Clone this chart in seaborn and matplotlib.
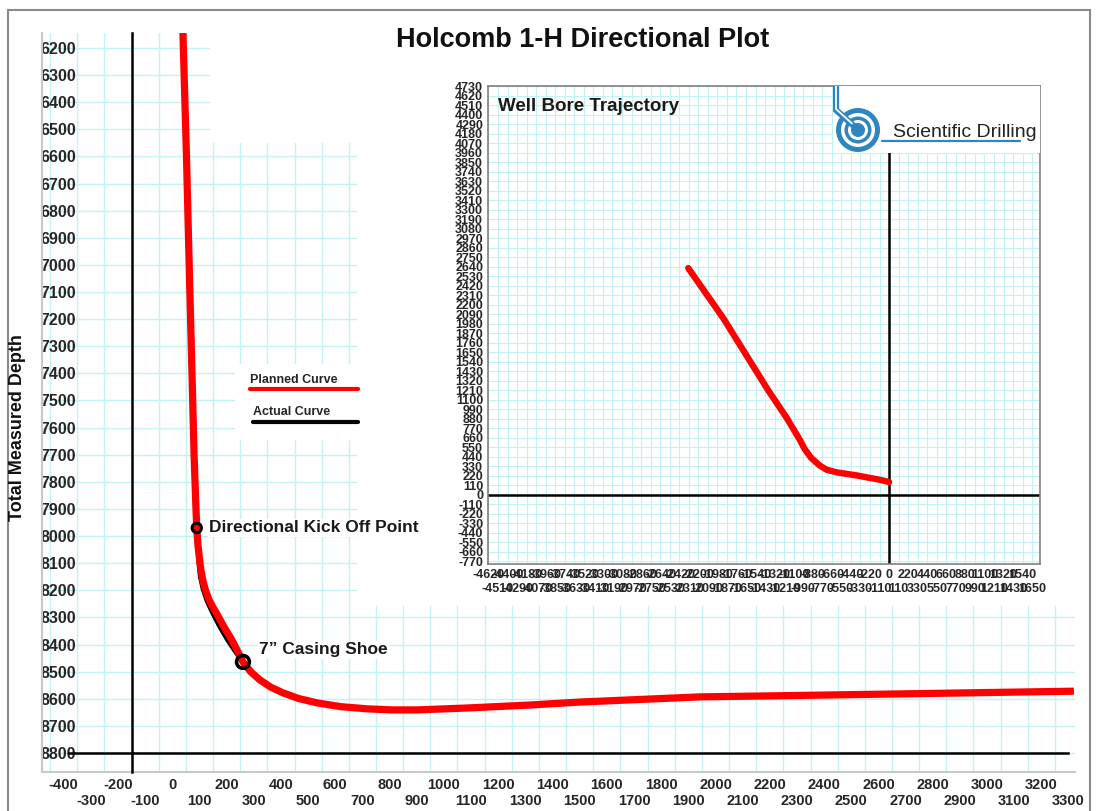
import numpy as np
import matplotlib
matplotlib.use("Agg")
import matplotlib.pyplot as plt
import seaborn as sns
from matplotlib.patches import Rectangle, Circle
from matplotlib.lines import Line2D

# ---------------- data ----------------
# Main plot: vertical section (ft) vs total measured depth (ft)
planned_vs = [39, 52, 62, 71, 80, 87, 90, 94, 100, 105, 112, 122, 135, 149, 164, 190,
              204, 219, 238, 260, 288, 322, 362, 407, 465, 532, 620, 716, 808, 901,
              1085, 1317, 1501, 1943, 2153, 2680, 3320]
planned_md = [6145, 6600, 7000, 7350, 7700, 7900, 7970, 8030, 8085, 8125, 8162, 8200,
              8235, 8262, 8287, 8335, 8358, 8383, 8420, 8464, 8500, 8530, 8557, 8578,
              8599, 8615, 8629, 8637, 8641, 8641, 8634, 8623, 8612, 8593, 8590, 8582, 8572]
actual_vs = [39, 52, 62, 71, 80, 87, 90, 92, 95, 100, 110, 125, 145, 172, 200, 228, 255]
actual_md = [6145, 6600, 7000, 7350, 7700, 7900, 7970, 8040, 8100, 8150, 8195, 8240,
             8283, 8335, 8383, 8425, 8464]

kop_vs, kop_md = [90], [7970]
shoe_vs, shoe_md = [260], [8464]

# Inset: well bore trajectory (E/W vs N/S)
traj_ew = [-2316, -1912, -1400, -1181, -1029, -974, -900, -800, -721, -600, -492,
           -370, -262, -130, 0]
traj_ns = [2626, 2046, 1220, 892, 636, 532, 430, 340, 292, 260, 244, 225, 204, 180, 150]

# tick labels
main_x_labels = list(range(-400, 3301, 100))
main_y_labels = list(range(6200, 8801, 100))
main_x_grid = list(range(-450, 3301, 100))
main_x_axis_ticks = list(range(-350, 3251, 100))
inset_x_labels = list(range(-4620, 1651, 110))
inset_y_labels = list(range(-770, 4731, 110))

# ---------------- style ----------------
sns.set_style("white")
plt.rcParams["font.family"] = ["Liberation Sans", "DejaVu Sans"]
plt.rcParams["font.weight"] = "bold"

W, H = 1098, 811
fig = plt.figure(figsize=(W / 100, H / 100), dpi=100)


def px_rect(x0, y0, x1, y1):
    return [x0 / W, 1 - y1 / H, (x1 - x0) / W, (y1 - y0) / H]


CYAN = "#c4f1f1"
XLIM = (-480, 3324)
YLIM = (8870, 6145)

# ---------------- main axes ----------------
ax = fig.add_axes(px_rect(42, 33, 1075, 772))
ax.set_xlim(*XLIM)
ax.set_ylim(*YLIM)
ax.set_axisbelow(True)

ax.set_xticks(main_x_labels)
ax.set_xticklabels([str(v) if (v // 100) % 2 == 0 else "\n" + str(v) for v in main_x_labels])
ax.set_xticks(main_x_grid, minor=True)
ax.set_yticks(main_y_labels)
ax.set_yticklabels([str(v) for v in main_y_labels])
ax.grid(False)
ax.grid(which="minor", axis="x", color=CYAN, lw=1.0)
ax.grid(which="major", axis="y", color=CYAN, lw=1.0)
ax.tick_params(which="both", length=0)
ax.tick_params(axis="x", pad=4, labelsize=10.5)
ax.tick_params(axis="y", pad=-24.5, labelsize=11.5)
for lab in ax.get_xticklabels() + ax.get_yticklabels():
    lab.set_fontweight("bold")
for s in ["top", "right"]:
    ax.spines[s].set_visible(False)
for s in ["left", "bottom"]:
    ax.spines[s].set_color("#c8c8c8")
    ax.spines[s].set_linewidth(1.5)

# white areas where the grid paper is absent
for (x0, y0, x1, y1) in [(140, 6100, 3400, 6550), (680, 6550, 3400, 8258), (232, 7365, 680, 7645)]:
    ax.add_patch(Rectangle((x0, y0), x1 - x0, y1 - y0, fc="white", ec="none", zorder=1))

sns.lineplot(x=actual_vs, y=actual_md, sort=False, estimator=None, color="black",
             lw=2.3, ax=ax, zorder=3)
sns.lineplot(x=planned_vs, y=planned_md, sort=False, estimator=None, color="red",
             lw=5.2, ax=ax, zorder=4, solid_capstyle="butt", solid_joinstyle="round")
sns.scatterplot(x=kop_vs, y=kop_md, s=45, facecolors="none", edgecolor="black",
                linewidth=2.2, ax=ax, zorder=5)
sns.scatterplot(x=shoe_vs, y=shoe_md, s=85, facecolors="none", edgecolor="black",
                linewidth=2.6, ax=ax, zorder=5)

ax.annotate("Directional Kick Off Point", xy=(kop_vs[0], kop_md[0]), xytext=(9, 0),
            textcoords="offset points", va="center", ha="left", fontsize=12.5,
            fontweight="bold", color="#1a1a1a", zorder=6,
            bbox=dict(fc="white", ec="none", pad=1))
ax.annotate("7\u201d Casing Shoe", xy=(shoe_vs[0], shoe_md[0]), xytext=(11.5, 8.6),
            textcoords="offset points", va="center", ha="left", fontsize=12.5,
            fontweight="bold", color="#1a1a1a", zorder=6,
            bbox=dict(fc="white", ec="none", pad=1))

# legend (text above a line sample)
ax.text(0.2014, 0.5304, "Planned Curve", transform=ax.transAxes, fontsize=9,
        fontweight="bold", va="center", ha="left", zorder=6)
ax.add_line(Line2D([0.2014, 0.3059], [0.5183, 0.5183], transform=ax.transAxes,
                   color="red", lw=3, zorder=6))
ax.text(0.2043, 0.4871, "Actual Curve", transform=ax.transAxes, fontsize=9,
        fontweight="bold", va="center", ha="left", zorder=6)
ax.add_line(Line2D([0.2043, 0.3059], [0.4736, 0.4736], transform=ax.transAxes,
                   color="black", lw=3, zorder=6))

ax.set_xlabel("")
ax.set_ylabel("")

# ---------------- black cross axes with tick marks ----------------
axk = fig.add_axes(px_rect(42, 33, 1075, 772))
axk.set_xlim(*XLIM)
axk.set_ylim(*YLIM)
axk.patch.set_visible(False)
for s in ["top", "right"]:
    axk.spines[s].set_visible(False)
axk.spines["left"].set_position(("data", -150))
axk.spines["bottom"].set_position(("data", 8800))
axk.spines["bottom"].set_bounds(-380, 3300)
for s in ["left", "bottom"]:
    axk.spines[s].set_color("black")
    axk.spines[s].set_linewidth(1.8)
axk.set_xticks(main_x_axis_ticks)
axk.set_yticks(main_y_labels[:-1])
axk.tick_params(direction="inout", length=9, width=1.1, color="#333333",
                labelbottom=False, labelleft=False)
axk.grid(False)

# ---------------- inset: well bore trajectory ----------------
axi = fig.add_axes(px_rect(488, 85.5, 1040, 564))
axi.set_facecolor("white")
axi.set_xlim(-4625, 1740)
axi.set_ylim(-800, 4740)
axi.set_axisbelow(True)
axi.set_xticks(inset_x_labels)
axi.set_xticklabels([str(v) if (v // 110) % 2 == 0 else "\n" + str(v) for v in inset_x_labels])
axi.set_yticks(inset_y_labels)
axi.set_yticklabels([str(v) for v in inset_y_labels])
axi.grid(True, color=CYAN, lw=0.8)
axi.tick_params(length=2.5, width=0.8, pad=1, labelsize=9, color="black")
for lab in axi.get_xticklabels() + axi.get_yticklabels():
    lab.set_fontweight("bold")
for s in axi.spines.values():
    s.set_color("#808080")
    s.set_linewidth(1.2)
axi.axhline(0, color="black", lw=1.8, zorder=2)
axi.axvline(0, color="black", lw=1.8, zorder=2)
sns.lineplot(x=traj_ew, y=traj_ns, sort=False, estimator=None, color="red", lw=4.6,
             ax=axi, zorder=4, solid_joinstyle="round")
axi.set_xlabel("")
axi.set_ylabel("")
axi.text(0.018, 0.957, "Well Bore Trajectory", transform=axi.transAxes, fontsize=13.5,
         fontweight="bold", va="center", ha="left", color="#1a1a1a")

# ---------------- company logo ----------------
BLUE = "#2e86c1"
axl = fig.add_axes(px_rect(833, 86, 1040, 153))
axl.set_xlim(0, 207)
axl.set_ylim(0, 67)
axl.set_facecolor("white")
axl.set_xticks([])
axl.set_yticks([])
for s in axl.spines.values():
    s.set_visible(False)
for r, c in [(22, BLUE), (17, "white"), (13.5, BLUE), (10, "white"), (7, BLUE)]:
    axl.add_patch(Circle((25, 23), r, fc=c, ec="none"))
axl.plot([3, 3, 21], [67, 43, 27], color=BLUE, lw=4.5, solid_joinstyle="miter")
axl.plot([3, 3, 19], [67, 44, 29.5], color="white", lw=1.3, solid_joinstyle="miter")
axl.plot([49, 187], [12, 12], color=BLUE, lw=1.6)
axl.text(60, 16, "Scientific Drilling", fontsize=14, fontweight="normal",
         color="#222222", va="baseline", ha="left")

# ---------------- figure texts ----------------
fig.text(583 / W, 1 - 40 / H, "Holcomb 1-H Directional Plot", ha="center", va="center",
         fontsize=19.5, fontweight="bold", color="#111111")
fig.text(18 / W, 1 - 428 / H, "Total Measured Depth", ha="center", va="center",
         rotation=90, fontsize=13, fontweight="bold", color="#111111")
fig.patches.append(Rectangle((8 / W, -0.05), (1090 - 8) / W, (H - 10) / H + 0.05,
                             transform=fig.transFigure, fill=False, ec="#8a8a8a", lw=1.5))

fig.savefig("out.png", dpi=100)
